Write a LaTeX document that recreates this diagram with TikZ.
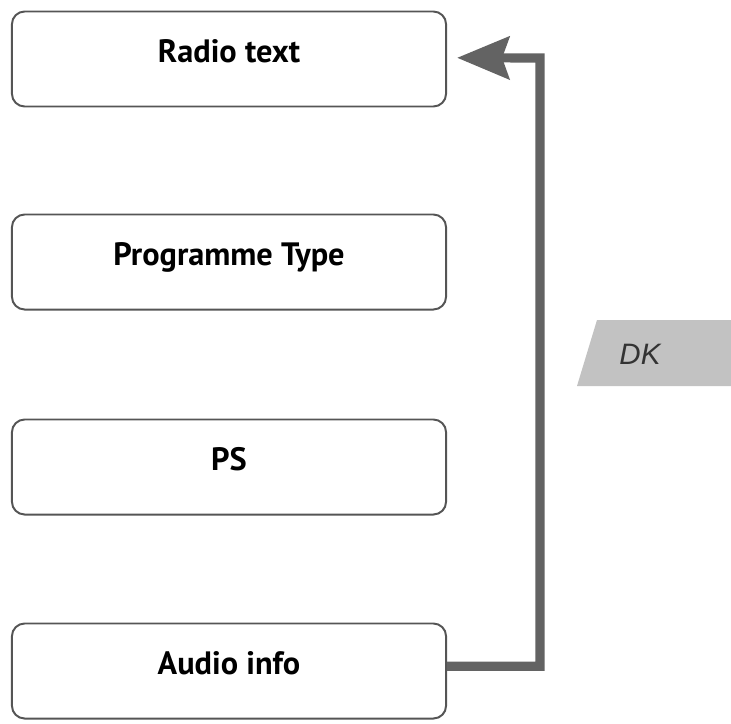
\documentclass[tikz,border=0pt]{standalone}
\usepackage{fontspec}
\setmainfont{PT Sans}
\newfontfamily\dkfont{Liberation Sans}
\usetikzlibrary{arrows.meta}
\definecolor{boxline}{HTML}{555555}
\definecolor{arrowgray}{HTML}{636363}
\definecolor{tabgray}{HTML}{C2C2C2}
\tikzset{
  menubox/.style={draw=boxline, line width=1.4pt, rounded corners=9pt, fill=white,
    minimum width=10.85cm, minimum height=2.375cm, font=\bfseries\fontsize{23}{26}\selectfont,
    text height=11pt, text depth=6pt},
  flow/.style={draw=arrowgray, line width=6.5pt,
    -{Stealth[length=37pt,width=30pt,inset=5pt]}}
}
\begin{document}
\begin{tikzpicture}[x=0.025cm,y=-0.025cm]
  \useasboundingbox (0,0) rectangle (731,724);
  % Menu entries
  \node[menubox] (radio) at (229,59) {Radio text};
  \node[menubox] (ptype) at (229,262) {Programme Type};
  \node[menubox] (ps) at (229,467) {PS};
  \node[menubox] (audio) at (229,671) {Audio info};

  % Return path
  \coordinate (turn) at (540,58);
  \draw[flow] ([yshift=0.12cm]audio.east) -| (turn) -- ([xshift=0.25cm,yshift=0.03cm]radio.east);

  % Key tab
  \fill[tabgray] (597,320) -- (731,320) -- (731,386) -- (577,386) -- cycle;
  \node[font=\dkfont\itshape\fontsize{21}{24}\selectfont, text=black!80] (dk) at (640,354) {DK};
\end{tikzpicture}
\end{document}
